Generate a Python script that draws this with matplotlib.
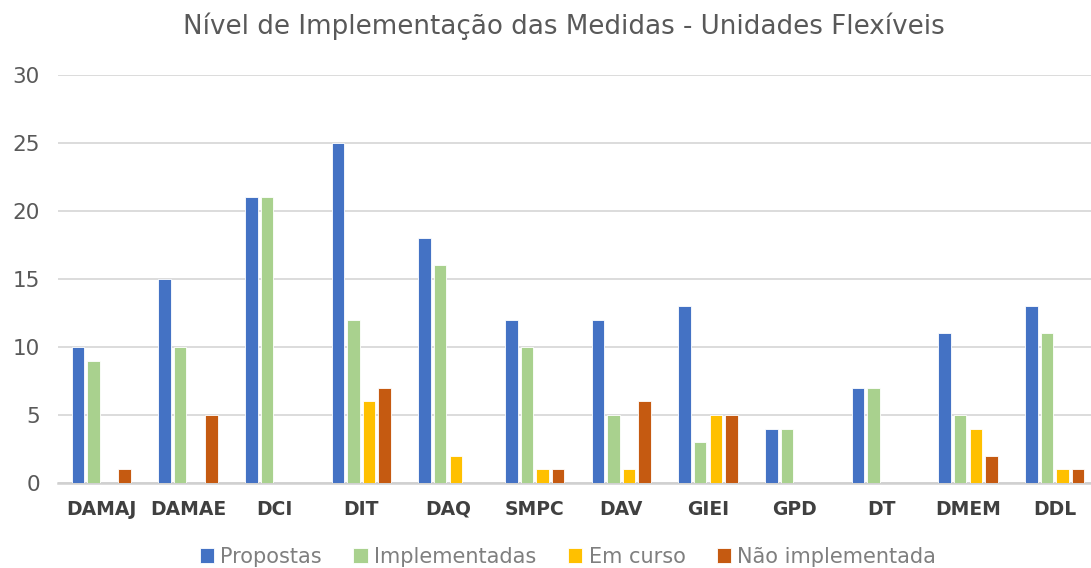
import numpy as np
import matplotlib.pyplot as plt

# dados
unidades = ['DAMAJ', 'DAMAE', 'DCI', 'DIT', 'DAQ', 'SMPC', 'DAV', 'GIEI', 'GPD', 'DT', 'DMEM', 'DDL']
propostas = [10, 15, 21, 25, 18, 12, 12, 13, 4, 7, 11, 13]
implementadas = [9, 10, 21, 12, 16, 10, 5, 3, 4, 7, 5, 11]
em_curso = [0, 0, 0, 6, 2, 1, 1, 5, 0, 0, 4, 1]
nao_impl = [1, 5, 0, 7, 0, 1, 6, 5, 0, 0, 2, 1]

series = [
    ('Propostas', propostas, '#4472C4'),
    ('Implementadas', implementadas, '#A9D18E'),
    ('Em curso', em_curso, '#FFC000'),
    ('Não implementada', nao_impl, '#C55A11'),
]

W, H = 1091, 568
fig = plt.figure(figsize=(W / 100, H / 100), dpi=100)
ax = fig.add_axes([58 / W, 1 - 483 / H, 1040 / W, 408 / H])

x = np.arange(len(unidades))
pitch = 0.18
bw = 0.145
for i, (nome, vals, cor) in enumerate(series):
    ax.bar(x + (i - 1.5) * pitch, vals, width=bw, color=cor, label=nome,
           edgecolor='white', linewidth=0.6, zorder=3)

ax.set_xlim(-0.5, len(unidades) - 0.5)
ax.set_ylim(0, 30)
ax.set_yticks(range(0, 31, 5))
ax.grid(axis='y', color='#d9d9d9', linewidth=1.3, zorder=0)
for s in ['top', 'right', 'left']:
    ax.spines[s].set_visible(False)
ax.spines['bottom'].set_color('#d0d0d0')
ax.spines['bottom'].set_linewidth(1.8)
ax.tick_params(axis='both', length=0)
ax.tick_params(axis='y', labelsize=15.5, labelcolor='#595959', pad=13)
ax.tick_params(axis='x', labelsize=13.5, labelcolor='#404040', pad=12)
ax.set_xticks(x)
ax.set_xticklabels(unidades, fontweight='semibold')

fig.suptitle('Nível de Implementação das Medidas - Unidades Flexíveis',
             x=564 / W, y=1 - 13 / H, fontsize=18.8, color='#595959', va='top')

fig.legend(loc='center', bbox_to_anchor=(568 / W, 1 - 557 / H), ncol=4,
           frameon=False, fontsize=15, labelcolor='#7f7f7f',
           handlelength=0.7, handleheight=0.7, handletextpad=0.3, columnspacing=1.5)

fig.savefig('out.png', dpi=100)
